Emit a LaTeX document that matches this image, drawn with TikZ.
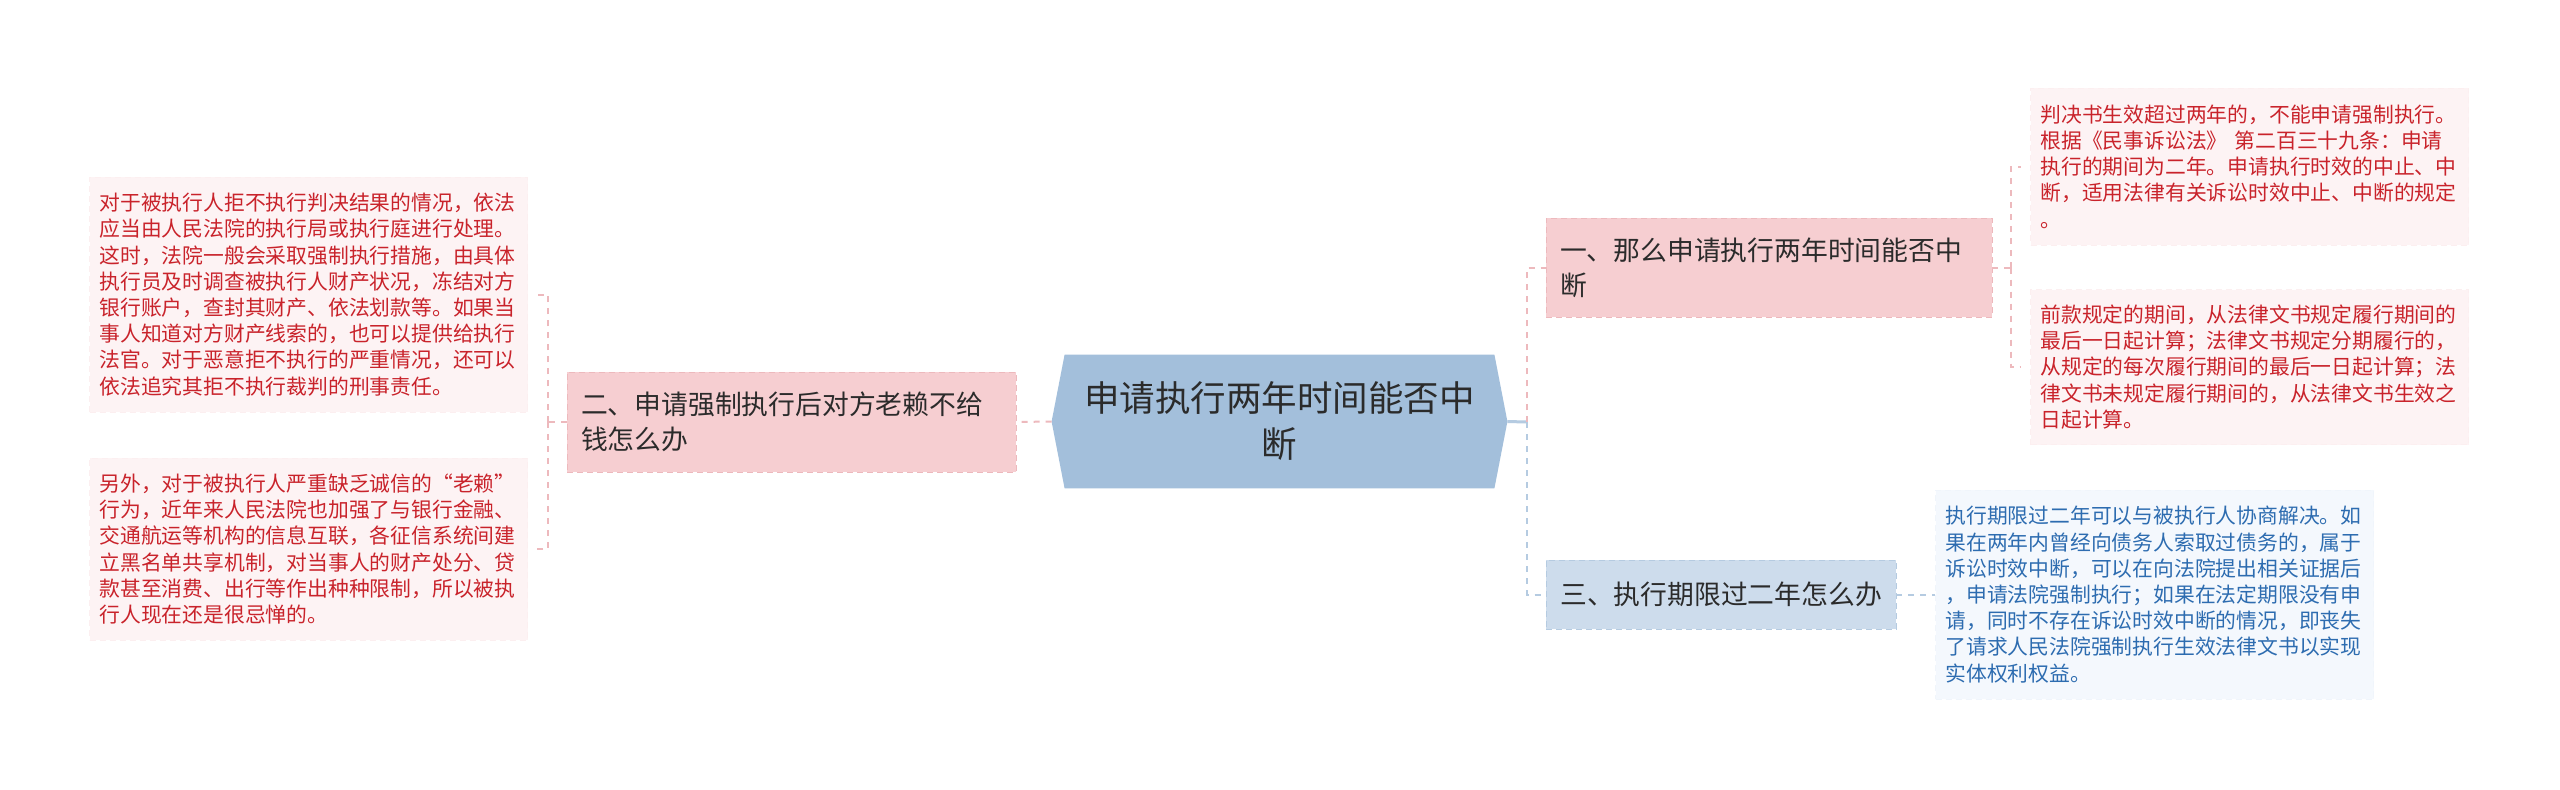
\documentclass[tikz,border=0pt]{standalone}
\usepackage{fontspec}
\setmainfont{Noto Sans CJK SC}
\usetikzlibrary{backgrounds}

\definecolor{rootfill}{HTML}{A3BFDB}
\definecolor{pinkfill}{HTML}{F6CED1}
\definecolor{pinkedge}{HTML}{EDB9BD}
\definecolor{bluefill}{HTML}{CDDCEC}
\definecolor{blueedge}{HTML}{B5CBE1}
\definecolor{pinkleaf}{HTML}{FDF3F4}
\definecolor{blueleaf}{HTML}{F4F8FD}
\definecolor{redtext}{HTML}{C9232B}
\definecolor{bluetext}{HTML}{2D6CB0}
\definecolor{darktext}{HTML}{2B2B2B}

\tikzset{
	rootbox/.style={inner sep=0pt,minimum width=227.5pt,minimum height=66.5pt,align=center,text=darktext,font=\fontsize{17.75pt}{23pt}\selectfont},
	pinkbranch/.style={draw=pinkedge,dashed,dash pattern=on 3pt off 2pt,fill=pinkfill,inner xsep=7pt,inner ysep=0pt,align=left,text=darktext,font=\fontsize{13.4pt}{17.5pt}\selectfont},
	bluebranch/.style={pinkbranch,draw=blueedge,fill=bluefill},
	pinkleafbox/.style={draw=pinkleaf!93!pinkedge,dashed,dash pattern=on 3pt off 2pt,fill=pinkleaf,inner xsep=5pt,inner ysep=0pt,text width=209pt,align=left,text=redtext,font=\fontsize{10.4pt}{13.1pt}\selectfont},
	blueleafbox/.style={pinkleafbox,draw=blueleaf!93!blueedge,fill=blueleaf,text=bluetext},
	pinkline/.style={draw=pinkedge,line width=1pt,dash pattern=on 3pt off 3pt},
	blueline/.style={draw=blueedge,line width=1pt,dash pattern=on 3pt off 3pt}
}

\begin{document}
\begin{tikzpicture}[x=0.5pt,y=0.5pt,yscale=-1,xscale=1]
	\path[use as bounding box] (0,0) rectangle (2560,789);
	
	% Root node
	\node[rootbox] (root) at (1279.5,421.5) {申请执行两年时间能否中\\断};
	
	% Branch nodes
	\node[pinkbranch,minimum width=224.5pt,minimum height=50pt,text width=210.5pt] (nolai) at (791.5,422) {二、申请强制执行后对方老赖不给\\钱怎么办};
	\node[pinkbranch,minimum width=223pt,minimum height=49.5pt,text width=209pt] (twoyears) at (1769,267.5) {一、那么申请执行两年时间能否中\\断};
	\node[bluebranch,minimum width=175pt,minimum height=34.5pt] (overdue) at (1721,594.5) {三、执行期限过二年怎么办};
	
	% Leaf nodes, left
	\node[pinkleafbox,minimum height=117.5pt] (refuse) at (308.5,294.5) {对于被执行人拒不执行判决结果的情况，依法\\应当由人民法院的执行局或执行庭进行处理。\\这时，法院一般会采取强制执行措施，由具体\\执行员及时调查被执行人财产状况，冻结对方\\银行账户，查封其财产、依法划款等。如果当\\事人知道对方财产线索的，也可以提供给执行\\法官。对于恶意拒不执行的严重情况，还可以\\依法追究其拒不执行裁判的刑事责任。};
	\node[pinkleafbox,minimum height=91pt] (credit) at (308.5,549) {另外，对于被执行人严重缺乏诚信的“老赖”\\行为，近年来人民法院也加强了与银行金融、\\交通航运等机构的信息互联，各征信系统间建\\立黑名单共享机制，对当事人的财产处分、贷\\款甚至消费、出行等作出种种限制，所以被执\\行人现在还是很忌惮的。};
	
	% Leaf nodes, right
	\node[pinkleafbox,minimum height=78.5pt] (limit) at (2249.5,166.5) {判决书生效超过两年的，不能申请强制执行。\\根据《民事诉讼法》 第二百三十九条：申请\\执行的期间为二年。申请执行时效的中止、中\\断，适用法律有关诉讼时效中止、中断的规定\\。};
	\node[pinkleafbox,minimum height=77.5pt] (period) at (2249.5,367) {前款规定的期间，从法律文书规定履行期间的\\最后一日起计算；法律文书规定分期履行的，\\从规定的每次履行期间的最后一日起计算；法\\律文书未规定履行期间的，从法律文书生效之\\日起计算。};
	\node[blueleafbox,minimum height=104.5pt] (negotiate) at (2154.5,594.5) {执行期限过二年可以与被执行人协商解决。如\\果在两年内曾经向债务人索取过债务的，属于\\诉讼时效中断，可以在向法院提出相关证据后\\，申请法院强制执行；如果在法定期限没有申\\请，同时不存在诉讼时效中断的情况，即丧失\\了请求人民法院强制执行生效法律文书以实现\\实体权利权益。};
	
	% Root shape
	\begin{scope}[on background layer]
		\fill[white] (0,0) rectangle (2560,789);
		\fill[rootfill] ([xshift=6.5pt]root.north west) -- ([xshift=-6.5pt]root.north east) -- (root.east) -- ([xshift=-6.5pt]root.south east) -- ([xshift=6.5pt]root.south west) -- (root.west) -- cycle;
	\end{scope}
	
	% Junctions
	\coordinate (lj) at (548,422);
	\coordinate (rj) at (1527,422);
	\coordinate (tj) at (2011,267.5);
	
	% Connectors
	\draw[pinkline] (root.west) -- (nolai.east);
	\draw[pinkline] (nolai.west) -- (lj);
	\draw[pinkline,shorten >=3.5pt] (lj) |- (refuse.east);
	\draw[pinkline,shorten >=3.5pt] (lj) |- (credit.east);
	\draw[draw=blueedge,line width=1.5pt] (root.east) -- (rj);
	\draw[pinkline] (rj) |- (twoyears.west);
	\draw[blueline] (rj) |- (overdue.west);
	\draw[pinkline] (twoyears.east) -- (tj);
	\draw[pinkline,shorten >=4.5pt] (tj) |- (limit.west);
	\draw[pinkline,shorten >=4.5pt] (tj) |- (period.west);
	\draw[blueline] (overdue.east) -- (negotiate.west);
	
\end{tikzpicture}
\end{document}
